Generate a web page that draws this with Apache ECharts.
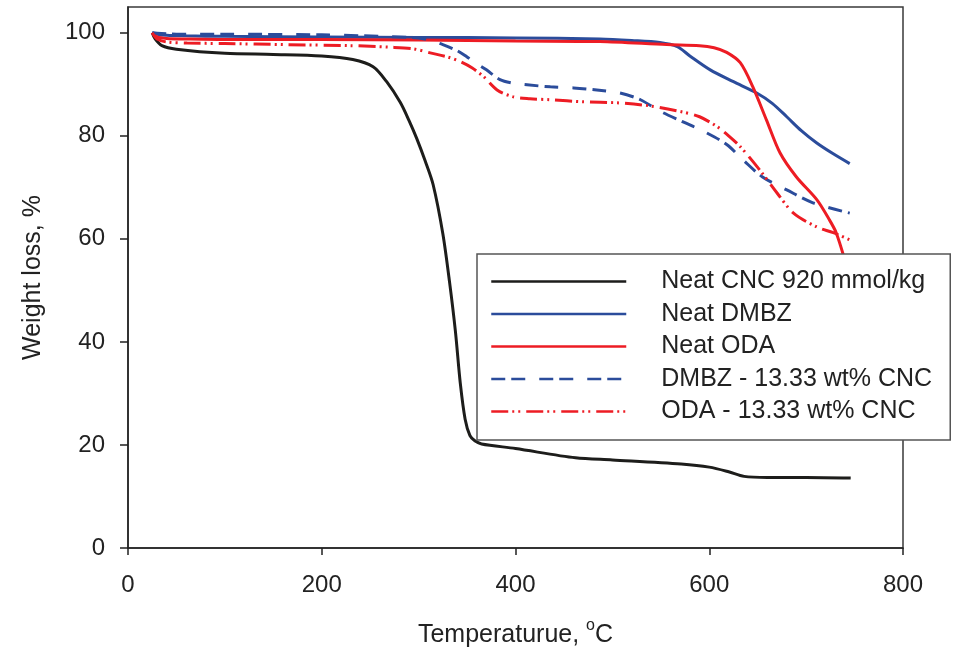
<!DOCTYPE html>
<html>
<head>
<meta charset="utf-8">
<script src="https://cdn.jsdelivr.net/npm/echarts@6/dist/echarts.min.js"></script>
<style>
  html, body { margin: 0; padding: 0; background: #fff; }
  #chart { width: 955px; height: 651px; }
</style>
</head>
<body>
<div id="chart"></div>
<script>
// temperature (°C) and weight (%)
const cncT = [25, 28, 35, 50, 100, 150, 200, 232, 253, 267, 281, 290, 298, 307, 315, 325, 332, 338, 343, 348, 353, 358, 365, 400, 462, 500, 571, 600, 620, 636, 660, 700, 746];
const cncW = [100, 98.8, 97.5, 96.8, 96.0, 95.8, 95.5, 94.8, 93.4, 90.5, 86.5, 83.0, 79.5, 75.0, 70.5, 61.0, 51.5, 42.0, 32.0, 25.0, 21.8, 20.8, 20.2, 19.3, 17.5, 17.1, 16.3, 15.7, 14.8, 13.9, 13.7, 13.7, 13.6];

const dmbzT = [25, 30, 40, 60, 100, 200, 300, 400, 487, 520, 549, 567, 580, 601, 625, 649, 665, 680, 695, 711, 728, 745];
const dmbzW = [100, 99.7, 99.5, 99.4, 99.3, 99.2, 99.1, 99.0, 98.8, 98.5, 98.1, 97.3, 95.5, 92.8, 90.5, 88.3, 86.3, 83.7, 81.0, 78.6, 76.5, 74.6];

const odaT = [25, 30, 40, 60, 100, 200, 300, 400, 487, 556, 590, 605, 618, 632, 645, 659, 673, 690, 711, 724, 731, 739];
const odaW = [100, 99.2, 98.9, 98.8, 98.7, 98.7, 98.6, 98.4, 98.3, 97.7, 97.5, 97.1, 96.2, 94.2, 89.5, 83.1, 76.7, 72.0, 67.6, 63.7, 61.2, 56.5];

const dmbzCncT = [25, 30, 40, 60, 100, 200, 260, 300, 310, 325, 340, 350, 360, 370, 384, 398, 412, 436, 460, 484, 508, 529, 549, 573, 597, 618, 635, 655, 680, 707, 745];
const dmbzCncW = [100, 99.9, 99.8, 99.7, 99.7, 99.6, 99.3, 99.0, 98.6, 97.7, 96.5, 95.3, 94.0, 92.8, 90.9, 90.2, 89.9, 89.5, 89.3, 88.9, 88.3, 87.0, 84.8, 82.7, 80.6, 78.3, 75.3, 72.0, 69.5, 67.0, 65.0];

const odaCncT = [25, 30, 40, 61, 100, 164, 230, 270, 294, 312, 330, 343, 355, 367, 381, 397, 415, 436, 470, 505, 539, 573, 590, 608, 620, 632, 652, 670, 687, 711, 728, 745];
const odaCncW = [100, 98.8, 98.2, 98.0, 97.9, 97.7, 97.5, 97.2, 96.9, 96.1, 95.3, 94.4, 93.2, 91.5, 88.9, 87.6, 87.2, 87.0, 86.6, 86.4, 85.8, 84.6, 83.7, 81.8, 80.0, 77.9, 73.4, 68.9, 65.0, 62.3, 61.2, 59.8];

const names = ['Neat CNC 920 mmol/kg', 'Neat DMBZ', 'Neat ODA', 'DMBZ - 13.33 wt% CNC', 'ODA - 13.33 wt% CNC'];
const yTicks = [0, 20, 40, 60, 80, 100];

const font = "'Liberation Sans', Arial, sans-serif";
const zip = (t, w) => t.map((v, i) => [v, w[i]]);

const chart = echarts.init(document.getElementById('chart'));

function line(name, t, w, color, dash) {
  return {
    name: name,
    type: 'line',
    data: zip(t, w),
    showSymbol: false,
    symbol: 'none',
    smooth: 0.3,
    lineStyle: { color: color, width: 3, type: dash || 'solid' },
    itemStyle: { color: color },
    silent: true
  };
}

const option = {
  animation: false,
  backgroundColor: '#fff',
  textStyle: { fontFamily: font },
  grid: {
    left: 128, right: 52, top: 7, bottom: 103,
    containLabel: false,
    outerBoundsMode: 'none',
    show: true,
    borderColor: '#3a3a3a',
    borderWidth: 1.5
  },
  legend: {
    orient: 'vertical',
    left: 477,
    top: 254,
    padding: [15, 17, 16, 13],
    itemWidth: 135,
    itemHeight: 24,
    itemGap: 7.5,
    borderColor: '#555',
    borderWidth: 1.5,
    backgroundColor: '#fff',
    selectedMode: false,
    lineStyle: { width: 2.5 },
    itemStyle: { opacity: 0, borderWidth: 0 },
    textStyle: {
      fontFamily: font,
      fontSize: 25,
      color: '#222',
      lineHeight: 24,
      width: 272,
      padding: [0, 0, 0, 30]
    },
    data: names
  },
  xAxis: {
    type: 'value',
    min: 0, max: 800, interval: 200,
    name: '{b|Temperaturue, }{sup|o}{b|C}',
    nameLocation: 'middle',
    nameGap: 70,
    nameTextStyle: {
      fontFamily: font, fontSize: 25, color: '#222',
      rich: {
        b: { fontFamily: font, fontSize: 25, color: '#222', lineHeight: 30, verticalAlign: 'bottom' },
        sup: { fontFamily: font, fontSize: 16, color: '#222', lineHeight: 16, verticalAlign: 'top' }
      }
    },
    splitLine: { show: false },
    axisLine: { show: true, onZero: false, lineStyle: { color: '#222', width: 1.5 } },
    axisTick: { show: true, inside: false, length: 7, lineStyle: { color: '#222', width: 1.5 } },
    axisLabel: { fontFamily: font, fontSize: 24, color: '#222', margin: 25 }
  },
  yAxis: {
    type: 'value',
    min: 0, max: 105,
    name: 'Weight loss, %',
    nameLocation: 'middle',
    nameGap: 82,
    nameTextStyle: { fontFamily: font, fontSize: 25, color: '#222' },
    splitLine: { show: false },
    axisLine: { show: true, onZero: false, lineStyle: { color: '#222', width: 1.5 } },
    axisTick: { show: true, inside: false, length: 8, customValues: yTicks, lineStyle: { color: '#222', width: 1.5 } },
    axisLabel: { fontFamily: font, fontSize: 24, color: '#222', margin: 23, customValues: yTicks }
  },
  series: [
    line(names[0], cncT, cncW, '#1d1d1b'),
    line(names[1], dmbzT, dmbzW, '#2b4c9b'),
    line(names[2], odaT, odaW, '#ed1c24'),
    line(names[3], dmbzCncT, dmbzCncW, '#2b4c9b', [14, 6, 14, 14]),
    line(names[4], odaCncT, odaCncW, '#ed1c24', [17, 4, 2, 4, 2, 6])
  ]
};

chart.setOption(option);
</script>
</body>
</html>
